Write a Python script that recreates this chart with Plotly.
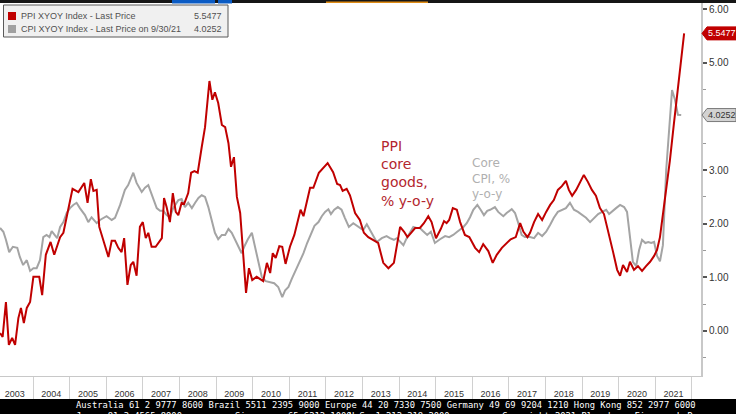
import plotly.graph_objects as go

# ---------------- data ----------------
ppi_name = "PPI XYOY Index - Last Price"
cpi_name = "CPI XYOY Index - Last Price on 9/30/21"

ppi_t = [2003.10, 2003.17, 2003.26, 2003.34, 2003.43, 2003.51, 2003.60, 2003.67, 2003.75, 2003.83,
         2003.92, 2004.01, 2004.17, 2004.25, 2004.35, 2004.48, 2004.58, 2004.74, 2004.83, 2005.01,
         2005.08, 2005.24, 2005.40, 2005.49, 2005.58, 2005.65, 2005.74, 2005.81, 2005.94, 2006.06,
         2006.15, 2006.24, 2006.33, 2006.42, 2006.49, 2006.58, 2006.67, 2006.74, 2006.83, 2006.92,
         2007.00, 2007.08, 2007.15, 2007.24, 2007.35, 2007.52, 2007.58, 2007.65, 2007.74, 2007.82,
         2007.90, 2007.97, 2008.06, 2008.13, 2008.24, 2008.32, 2008.41, 2008.50, 2008.61, 2008.70,
         2008.82, 2008.90, 2008.97, 2009.06, 2009.16, 2009.25, 2009.34, 2009.41, 2009.49, 2009.57,
         2009.66, 2009.82, 2009.90, 2009.99, 2010.11, 2010.20, 2010.29, 2010.39, 2010.48, 2010.55,
         2010.63, 2010.73, 2010.81, 2010.90, 2011.02, 2011.14, 2011.31, 2011.39, 2011.57, 2011.66,
         2011.81, 2012.05, 2012.20, 2012.31, 2012.39, 2012.46, 2012.57, 2012.66, 2012.80, 2012.93,
         2013.04, 2013.16, 2013.30, 2013.43, 2013.57, 2013.71, 2013.86, 2014.03, 2014.14, 2014.23,
         2014.33, 2014.44, 2014.57, 2014.68, 2014.80, 2014.89, 2015.01, 2015.14, 2015.23, 2015.30,
         2015.37, 2015.47, 2015.58, 2015.67, 2015.80, 2015.92, 2016.08, 2016.19, 2016.30, 2016.44,
         2016.56, 2016.67, 2016.81, 2016.94, 2017.05, 2017.19, 2017.31, 2017.40, 2017.51, 2017.58,
         2017.69, 2017.80, 2017.91, 2018.02, 2018.13, 2018.23, 2018.34, 2018.45, 2018.56, 2018.64,
         2018.73, 2018.84, 2018.95, 2019.05, 2019.16, 2019.27, 2019.38, 2019.49, 2019.60, 2019.68,
         2019.77, 2019.85, 2019.96, 2020.04, 2020.12, 2020.23, 2020.31, 2020.42, 2020.53, 2020.64,
         2020.75, 2020.86, 2020.97, 2021.05, 2021.13, 2021.21, 2021.30, 2021.40, 2021.51, 2021.62,
         2021.73, 2021.79]
ppi_v = [-0.04, -0.11, 0.54, -0.26, -0.13, -0.26, 0.24, 0.43, 0.15, 0.43,
         0.54, 1.01, 1.01, 0.67, 1.42, 1.66, 1.42, 1.75, 1.83, 2.44,
         2.65, 2.59, 2.76, 2.39, 2.83, 2.61, 2.63, 1.94, 1.66, 1.38,
         1.68, 1.68, 1.55, 1.47, 1.73, 0.86, 1.23, 1.29, 1.03, 1.94,
         2.03, 1.73, 1.83, 1.57, 1.57, 1.73, 2.48, 2.31, 2.03, 2.57,
         2.22, 2.16, 2.39, 2.37, 2.57, 2.95, 2.98, 2.95, 3.43, 3.80,
         4.66, 4.31, 4.45, 4.25, 3.84, 3.80, 3.50, 3.06, 3.24, 2.50,
         2.20, 0.71, 1.17, 0.95, 1.01, 0.97, 0.93, 1.27, 1.08, 1.45,
         1.36, 1.58, 1.57, 1.25, 1.57, 1.79, 2.26, 2.14, 2.67, 2.67,
         2.95, 3.13, 2.96, 2.74, 2.72, 2.61, 2.65, 2.53, 2.20, 2.07,
         1.83, 1.75, 1.70, 1.64, 1.27, 1.17, 1.27, 1.94, 1.85, 1.75,
         1.83, 1.92, 1.92, 2.01, 2.14, 2.03, 1.73, 1.90, 2.05, 2.01,
         2.07, 2.29, 2.26, 2.03, 1.79, 1.75, 1.55, 1.47, 1.62, 1.49,
         1.27, 1.42, 1.55, 1.64, 1.71, 1.75, 2.01, 1.85, 1.75, 1.83,
         2.03, 2.18, 2.07, 2.22, 2.35, 2.44, 2.63, 2.70, 2.80, 2.63,
         2.52, 2.63, 2.78, 2.91, 2.78, 2.63, 2.52, 2.29, 2.18, 1.96,
         1.73, 1.47, 1.14, 1.03, 1.23, 1.10, 1.29, 1.14, 1.21, 1.12,
         1.21, 1.29, 1.40, 1.51, 1.75, 2.16, 2.63, 3.17, 3.86, 4.53,
         5.22, 5.5477]

cpi_t = [2003.10, 2003.19, 2003.26, 2003.35, 2003.45, 2003.57, 2003.64, 2003.73, 2003.83, 2003.92,
         2004.01, 2004.10, 2004.19, 2004.28, 2004.37, 2004.45, 2004.51, 2004.60, 2004.66, 2004.74,
         2004.83, 2004.92, 2005.01, 2005.10, 2005.19, 2005.28, 2005.42, 2005.51, 2005.60, 2005.74,
         2005.83, 2006.01, 2006.15, 2006.24, 2006.38, 2006.51, 2006.60, 2006.74, 2006.83, 2006.97,
         2007.06, 2007.15, 2007.29, 2007.38, 2007.47, 2007.56, 2007.65, 2007.74, 2007.83, 2007.97,
         2008.06, 2008.15, 2008.24, 2008.34, 2008.43, 2008.52, 2008.61, 2008.70, 2008.79, 2008.88,
         2008.97, 2009.06, 2009.16, 2009.25, 2009.34, 2009.43, 2009.52, 2009.61, 2009.70, 2009.77,
         2009.87, 2009.98, 2010.07, 2010.16, 2010.25, 2010.36, 2010.48, 2010.59, 2010.70, 2010.81,
         2010.89, 2010.98, 2011.07, 2011.16, 2011.27, 2011.39, 2011.49, 2011.61, 2011.69, 2011.80,
         2011.89, 2011.98, 2012.07, 2012.14, 2012.23, 2012.33, 2012.43, 2012.52, 2012.63, 2012.75,
         2012.89, 2013.02, 2013.12, 2013.21, 2013.30, 2013.39, 2013.53, 2013.66, 2013.75, 2013.86,
         2013.94, 2014.03, 2014.12, 2014.21, 2014.30, 2014.39, 2014.48, 2014.57, 2014.66, 2014.77,
         2014.87, 2014.98, 2015.12, 2015.26, 2015.37, 2015.48, 2015.59, 2015.76, 2015.85, 2015.94,
         2016.03, 2016.14, 2016.23, 2016.32, 2016.41, 2016.49, 2016.62, 2016.71, 2016.85, 2016.94,
         2017.08, 2017.17, 2017.26, 2017.35, 2017.44, 2017.58, 2017.69, 2017.80, 2017.91, 2018.02,
         2018.13, 2018.23, 2018.34, 2018.45, 2018.56, 2018.67, 2018.78, 2018.89, 2019.00, 2019.11,
         2019.22, 2019.33, 2019.44, 2019.55, 2019.66, 2019.74, 2019.82, 2019.93, 2020.04, 2020.15,
         2020.23, 2020.31, 2020.39, 2020.48, 2020.56, 2020.64, 2020.73, 2020.81, 2020.89, 2020.97,
         2021.05, 2021.13, 2021.21, 2021.30, 2021.38, 2021.46, 2021.54, 2021.62, 2021.71]
cpi_v = [1.92, 1.85, 1.70, 1.47, 1.57, 1.55, 1.38, 1.23, 1.32, 1.12,
         1.17, 1.17, 1.32, 1.75, 1.79, 1.75, 1.86, 1.79, 1.73, 1.94,
         2.03, 2.20, 2.29, 2.35, 2.39, 2.29, 2.16, 2.03, 2.12, 2.01,
         2.07, 2.14, 2.07, 2.11, 2.35, 2.63, 2.72, 2.95, 2.76, 2.59,
         2.67, 2.72, 2.44, 2.29, 2.24, 2.24, 2.16, 2.12, 2.29, 2.44,
         2.46, 2.31, 2.39, 2.29, 2.39, 2.48, 2.53, 2.50, 2.31, 2.07,
         1.83, 1.71, 1.79, 1.79, 1.90, 1.83, 1.70, 1.55, 1.45, 1.57,
         1.71, 1.83, 1.57, 1.29, 1.01, 0.93, 0.91, 0.89, 0.82, 0.63,
         0.76, 0.82, 0.97, 1.10, 1.27, 1.45, 1.64, 1.83, 1.96, 2.03,
         2.14, 2.22, 2.27, 2.18, 2.26, 2.31, 2.26, 2.11, 1.94, 2.01,
         1.94, 1.88, 1.99, 1.88, 1.75, 1.66, 1.73, 1.77, 1.73, 1.70,
         1.73, 1.66, 1.60, 1.73, 1.85, 1.94, 1.92, 1.92, 1.86, 1.79,
         1.85, 1.64, 1.71, 1.77, 1.75, 1.79, 1.85, 1.94, 2.01, 2.12,
         2.26, 2.35, 2.26, 2.16, 2.24, 2.26, 2.31, 2.22, 2.14, 2.20,
         2.27, 2.20, 2.01, 1.79, 1.75, 1.75, 1.73, 1.83, 1.77, 1.85,
         1.98, 2.11, 2.22, 2.26, 2.29, 2.39, 2.26, 2.22, 2.16, 2.11,
         2.03, 2.11, 2.18, 2.22, 2.26, 2.18, 2.22, 2.29, 2.35, 2.31,
         2.22, 1.70, 1.29, 1.21, 1.51, 1.70, 1.64, 1.66, 1.64, 1.66,
         1.40, 1.30, 1.60, 3.00, 3.80, 4.49, 4.31, 4.03, 4.0252]

years = [2003, 2004, 2005, 2006, 2007, 2008, 2009, 2010, 2011, 2012,
         2013, 2014, 2015, 2016, 2017, 2018, 2019, 2020, 2021]
year_labels = [str(y) for y in years]
y_ticks = [0, 1, 2, 3, 4, 5, 6]
# the 4.00 label sits under the CPI last-value tag in the reference
y_tick_labels = ["0.00", "1.00", "2.00", "3.00", "", "5.00", "6.00"]

ppi_last = ppi_v[-1]
cpi_last = cpi_v[-1]

footer_line1 = "Australia 61 2 9777 8600 Brazil 5511 2395 9000 Europe 44 20 7330 7500 Germany 49 69 9204 1210 Hong Kong 852 2977 6000"
footer_line2a = "Japan 81 3 4565 8900"
footer_line2b = "Singapore 65 6212 1000"
footer_line2c = "U.S. 1 212 318 2000"
footer_line2d = "Copyright 2021 Bloomberg Finance L.P."

# ---------------- layout geometry ----------------
W, H = 736, 414
PL, PR, PT, PB = 0, 701, 3, 376
X_RANGE = [2003.098, 2022.251]
Y_RANGE = [-0.839, 6.114]


def px(x):
    return (x - PL) / (PR - PL)


def py(y):
    return (PB - y) / (PB - PT)


RED = "#c00000"
GREY = "#a4a4a4"
SANS = "Liberation Sans"

fig = go.Figure()
fig.add_trace(go.Scatter(x=cpi_t, y=cpi_v, mode="lines", name=cpi_name,
                         line=dict(color=GREY, width=2), hoverinfo="skip"))
fig.add_trace(go.Scatter(x=ppi_t, y=ppi_v, mode="lines", name=ppi_name,
                         line=dict(color=RED, width=2), hoverinfo="skip"))

shapes = []
# top dark bar with coloured tabs
shapes.append(dict(type="rect", xref="paper", yref="paper", x0=px(0), x1=px(W), y0=py(3), y1=py(0),
                   fillcolor="#161616", line=dict(width=0), layer="above"))
shapes.append(dict(type="rect", xref="paper", yref="paper", x0=px(172), x1=px(215), y0=py(3.5), y1=py(0),
                   fillcolor="#0a5bc4", line=dict(width=0), layer="above"))
shapes.append(dict(type="rect", xref="paper", yref="paper", x0=px(218), x1=px(232), y0=py(3.5), y1=py(0),
                   fillcolor="#0a5bc4", line=dict(width=0), layer="above"))
shapes.append(dict(type="rect", xref="paper", yref="paper", x0=px(326), x1=px(428), y0=py(3), y1=py(1.5),
                   fillcolor="#e08c14", line=dict(width=0), layer="above"))
# footer black band
shapes.append(dict(type="rect", xref="paper", yref="paper", x0=px(0), x1=px(W), y0=py(H + 2), y1=py(399),
                   fillcolor="#000000", line=dict(width=0), layer="above"))
# legend box
shapes.append(dict(type="rect", xref="paper", yref="paper", x0=px(3.5), x1=px(228), y0=py(37), y1=py(5),
                   fillcolor="#f0f0f0", line=dict(color="#5a5a5a", width=1), layer="above"))
shapes.append(dict(type="rect", xref="paper", yref="paper", x0=px(8), x1=px(16), y0=py(20), y1=py(12),
                   fillcolor=RED, line=dict(width=0), layer="above"))
shapes.append(dict(type="rect", xref="paper", yref="paper", x0=px(8), x1=px(16), y0=py(33), y1=py(25),
                   fillcolor="#a0a0a0", line=dict(width=0), layer="above"))
# last-value tags on the right axis
tag_path = "M 1,0 L 6,6.5 L 35,6.5 L 35,-6.5 L 6,-6.5 Z"
shapes.append(dict(type="path", xref="paper", yref="y", xsizemode="pixel", ysizemode="pixel",
                   xanchor=1, yanchor=ppi_last, path=tag_path, fillcolor=RED,
                   line=dict(color=RED, width=1), layer="above"))
shapes.append(dict(type="path", xref="paper", yref="y", xsizemode="pixel", ysizemode="pixel",
                   xanchor=1, yanchor=cpi_last, path=tag_path, fillcolor="#d2d2d2",
                   line=dict(color="#7a7a7a", width=1), layer="above"))

ann = []
leg_font = dict(family=SANS, size=9, color="#505050")
ann.append(dict(xref="paper", yref="paper", x=px(19), y=py(16), xanchor="left", yanchor="middle",
                text=ppi_name, showarrow=False, font=leg_font))
ann.append(dict(xref="paper", yref="paper", x=px(224), y=py(16), xanchor="right", yanchor="middle",
                text=f"{ppi_last:.4f}", showarrow=False, font=leg_font))
ann.append(dict(xref="paper", yref="paper", x=px(19), y=py(29), xanchor="left", yanchor="middle",
                text=cpi_name, showarrow=False, font=leg_font))
ann.append(dict(xref="paper", yref="paper", x=px(224), y=py(29), xanchor="right", yanchor="middle",
                text=f"{cpi_last:.4f}", showarrow=False, font=leg_font))
# tag texts
ann.append(dict(xref="paper", yref="y", x=1, y=ppi_last, xanchor="left", yanchor="middle", xshift=5,
                text=f"{ppi_last:.4f}", showarrow=False, font=dict(family=SANS, size=9, color="white")))
ann.append(dict(xref="paper", yref="y", x=1, y=cpi_last, xanchor="left", yanchor="middle", xshift=5,
                text=f"{cpi_last:.4f}", showarrow=False, font=dict(family=SANS, size=9, color="#333333")))
# in-chart labels
ann.append(dict(xref="x", yref="y", x=2013.45, y=2.94, xanchor="left", yanchor="middle", align="left",
                text="PPI<br>core<br>goods,<br>% y-o-y", showarrow=False,
                font=dict(family="DejaVu Sans", size=14, color="#b3262e")))
ann.append(dict(xref="x", yref="y", x=2015.95, y=2.85, xanchor="left", yanchor="middle", align="left",
                text="Core<br>CPI, %<br>y-o-y", showarrow=False,
                font=dict(family="DejaVu Sans", size=12, color="#b0b0b0")))
# footer texts
mono = dict(family="DejaVu Sans Mono", size=8.8, color="white")
ann.append(dict(xref="paper", yref="paper", x=px(74), y=py(405), xanchor="left", yanchor="middle",
                text=footer_line1, showarrow=False, font=mono))
for txt, xp in [(footer_line2a, 74), (footer_line2b, 233), (footer_line2c, 347), (footer_line2d, 500)]:
    ann.append(dict(xref="paper", yref="paper", x=px(xp), y=py(416), xanchor="left", yanchor="middle",
                    text=txt, showarrow=False, font=mono))

fig.update_layout(
    width=W, height=H,
    margin=dict(l=PL, r=W - PR, t=PT, b=H - PB, pad=0),
    paper_bgcolor="white", plot_bgcolor="white",
    showlegend=False,
    xaxis=dict(range=X_RANGE, tickmode="array",
               tickvals=[y + 0.5 for y in years], ticktext=year_labels,
               ticks="", showgrid=False, zeroline=False,
               showline=True, linecolor="#c8c8c8", linewidth=1,
               tickfont=dict(family=SANS, size=9, color="#333333"),
               ticklabelstandoff=9,
               minor=dict(tickmode="array", tickvals=years + [years[-1] + 1], ticks="outside",
                          ticklen=23, tickcolor="#d0d0d0", tickwidth=1, showgrid=False)),
    yaxis=dict(range=Y_RANGE, side="right", tickmode="array", tickvals=y_ticks, ticktext=y_tick_labels,
               ticks="outside", ticklen=4, tickwidth=2, tickcolor="#555555",
               showline=True, linecolor="#c8c8c8", linewidth=2,
               showgrid=False, zeroline=False,
               tickfont=dict(family=SANS, size=10, color="#333333"),
               minor=dict(tickmode="linear", tick0=0, dtick=0.5, ticks="outside", ticklen=3,
                          tickcolor="#999999", tickwidth=1, showgrid=False)),
    shapes=shapes,
    annotations=ann,
)

fig.write_html("out.html")
